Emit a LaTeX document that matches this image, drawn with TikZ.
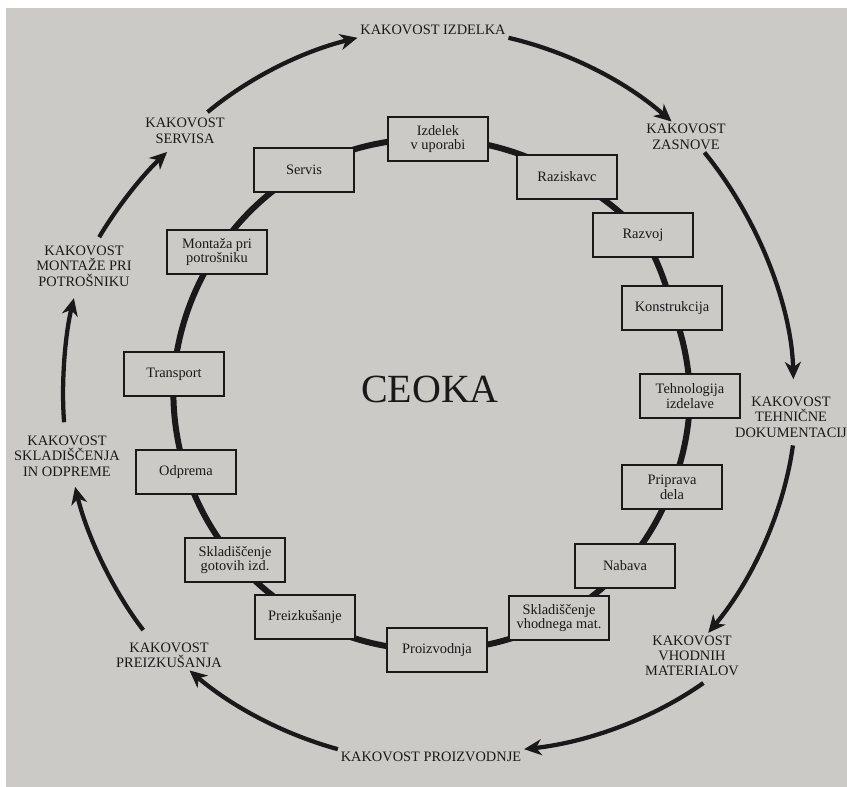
\documentclass[tikz,border=0pt]{standalone}
\usepackage{fontspec}
\setmainfont{Liberation Serif}
\usetikzlibrary{arrows.meta,backgrounds}
\definecolor{paper}{RGB}{203,202,199}
\definecolor{ink}{RGB}{25,25,25}

\begin{document}
\begin{tikzpicture}[x=0.75pt,y=0.75pt]
  \tikzstyle{box}=[rectangle, draw=ink, line width=2.2pt, fill=paper, minimum width=75pt, minimum height=33pt, inner sep=2pt, align=center, text=ink, font=\fontsize{10.8}{11}\selectfont]
  \tikzstyle{kak}=[inner sep=2pt, align=center, text=ink, font=\fontsize{10.8}{11.5}\selectfont]
  \tikzstyle{ring}=[draw=ink, line width=4.5pt, looseness=0.86]
  \tikzstyle{flow}=[draw=ink, line width=3.2pt, looseness=0.86, -{Stealth[length=13pt, width=12pt, inset=4pt]}]

  \useasboundingbox (0,0) rectangle (847,-787);

  \node[text=ink, font=\fontsize{30}{36}\selectfont] (ceoka) at (430,-389) {CEOKA};

  % inner ring of activities
  \node[box] (iz) at (438,-139) {Izdelek\\v uporabi};
  \node[box] (ra) at (567,-177) {Raziskavc};
  \node[box] (rv) at (643,-235) {Razvoj};
  \node[box] (ko) at (672,-308) {Konstrukcija};
  \node[box] (te) at (690,-396) {Tehnologija\\izdelave};
  \node[box] (pp) at (672,-487) {Priprava\\dela};
  \node[box] (na) at (625,-566) {Nabava};
  \node[box] (sv) at (559,-618) {Skladiščenje\\vhodnega mat.};
  \node[box] (pr) at (437,-650) {Proizvodnja};
  \node[box] (pz) at (305,-617) {Preizkušanje};
  \node[box] (sg) at (235,-560) {Skladiščenje\\gotovih izd.};
  \node[box] (od) at (186,-472) {Odprema};
  \node[box] (tr) at (174,-374) {Transport};
  \node[box] (mo) at (217,-252) {Montaža pri\\potrošniku};
  \node[box] (se) at (304,-170) {Servis};

  % outer ring of qualities
  \node[kak] (qiz) at (433,-30)  {KAKOVOST IZDELKA};
  \node[kak] (qza) at (686,-137) {KAKOVOST\\ZASNOVE};
  \node[kak] (qte) at (791,-417) {KAKOVOST\\TEHNIČNE\\DOKUMENTACIJ};
  \node[kak] (qvh) at (692,-656) {KAKOVOST\\VHODNIH\\MATERIALOV};
  \node[kak] (qpr) at (431,-757) {KAKOVOST PROIZVODNJE};
  \node[kak] (qpz) at (169,-655) {KAKOVOST\\PREIZKUŠANJA};
  \node[kak] (qsk) at (67,-456)  {KAKOVOST\\SKLADIŠČENJA\\IN ODPREME};
  \node[kak] (qmo) at (84,-266)  {KAKOVOST\\MONTAŽE PRI\\POTROŠNIKU};
  \node[kak] (qse) at (185,-131) {KAKOVOST\\SERVISA};

  \draw[flow, shorten <=4pt] (qse.40) to[bend left=13] (qiz.south west);
  \draw[flow] (qiz.south east) to[bend left=14] (qza.133);
  \draw[flow, shorten >=11pt] (qza.-40) to[bend left=19] ([xshift=2pt]qte.north);
  \draw[flow, shorten <=4pt] ([xshift=2pt]qte.south) to[bend left=16] (qvh.55);
  \draw[flow, shorten <=5pt] (qvh.-54) to[bend left=14.5] (qpr.north east);
  \draw[flow] (qpr.north west) to[bend left=12.5] (qpz.-37);
  \draw[flow, shorten <=9pt, shorten >=6pt] (qpz.140) to[bend left=12] (qsk.-75);
  \draw[flow, shorten <=8pt, shorten >=7pt] (qsk.95) to[bend left=9] (qmo.-109);
  \draw[flow, shorten <=5pt, shorten >=6pt] (qmo.63) to[bend left=8] (qse.-128);

  \begin{scope}[on background layer]
    \fill[white] (0,0) rectangle (847,-787);
    \fill[paper] (6,-8) rectangle (847,-787);
    \draw[ring] (iz.center) to[bend left=15.3] (ra.center);
    \draw[ring] (ra.center) to[bend left=10.6] (rv.center);
    \draw[ring] (rv.center) to[bend left=8.7] (ko.center);
    \draw[ring] (ko.center) to[bend left=10] (te.center);
    \draw[ring] (te.center) to[bend left=10.4] (pp.center);
    \draw[ring] (pp.center) to[bend left=10.3] (na.center);
    \draw[ring] (na.center) to[bend left=9.4] (sv.center);
    \draw[ring] (sv.center) to[bend left=14.3] (pr.center);
    \draw[ring] (pr.center) to[bend left=15.4] (pz.center);
    \draw[ring] (pz.center) to[bend left=10.1] (sg.center);
    \draw[ring] (sg.center) to[bend left=11.3] (od.center);
    \draw[ring] (od.center) to[bend left=11] (tr.center);
    \draw[ring] (tr.center) to[bend left=14.5] (mo.center);
    \draw[ring] (mo.center) to[bend left=13.5] (se.center);
    \draw[ring] (se.center) to[bend left=15.5] (iz.center);
  \end{scope}
\end{tikzpicture}
\end{document}
